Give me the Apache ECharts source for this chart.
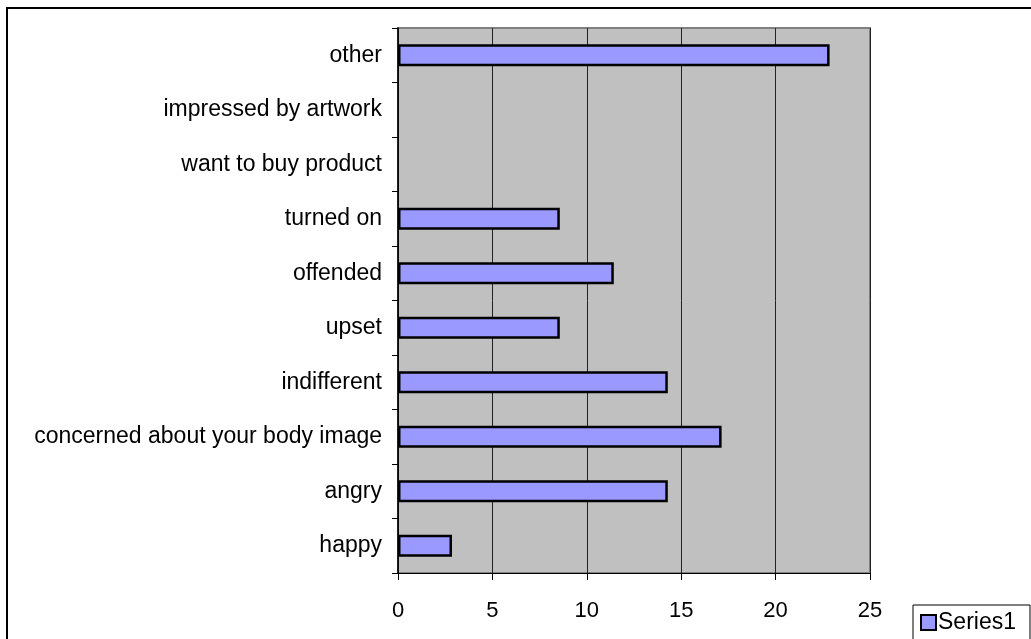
<!DOCTYPE html>
<html>
<head>
<meta charset="utf-8">
<script src="https://cdn.jsdelivr.net/npm/echarts@6/dist/echarts.min.js"></script>
<style>
  html, body { margin: 0; padding: 0; background: #fff; }
  #main { width: 1031px; height: 639px; }
</style>
</head>
<body>
<div id="main"></div>
<script>
// categories from bottom to top
const categories = [
  'happy',
  'angry',
  'concerned about your body image',
  'indifferent',
  'upset',
  'offended',
  'turned on',
  'want to buy product',
  'impressed by artwork',
  'other'
]
const series1 = [2.86, 14.29, 17.14, 14.29, 8.57, 11.43, 8.57, 0, 0, 22.86]
const xTicks = [0, 5, 10, 15, 20, 25]

const chart = echarts.init(document.getElementById('main'))
const font = 'Liberation Sans, Arial, sans-serif'

chart.setOption({
  animation: false,
  graphic: [{
    type: 'rect',
    shape: { x: 7, y: 8, width: 1200, height: 800 },
    style: { fill: 'none', stroke: '#000', lineWidth: 2 },
    z: 0
  }],
  legend: {
    data: ['Series1'],
    left: 913,
    top: 605,
    padding: [6, 14, 6, 7],
    itemWidth: 15,
    itemHeight: 15,
    itemGap: 4,
    borderColor: '#000',
    borderWidth: 1,
    backgroundColor: '#fff',
    icon: 'rect',
    textStyle: { fontFamily: font, fontSize: 23, color: '#000', padding: [0, 0, 0, -3] },
    itemStyle: { borderColor: '#000', borderWidth: 2 }
  },
  grid: {
    left: 398,
    top: 28,
    right: 161,
    bottom: 66,
    show: true,
    backgroundColor: '#C0C0C0',
    borderColor: '#808080',
    borderWidth: 2
  },
  xAxis: {
    type: 'value',
    min: 0,
    max: 25,
    interval: 5,
    axisLine: { show: true, lineStyle: { color: '#000', width: 1 } },
    axisTick: { show: true, length: 7, lineStyle: { color: '#000' } },
    axisLabel: {
      margin: 27,
      fontFamily: font,
      fontSize: 22,
      color: '#000',
      formatter: v => (xTicks.indexOf(v) >= 0 ? String(v) : '')
    },
    splitLine: { show: true, lineStyle: { color: '#222', width: 1 } }
  },
  yAxis: {
    type: 'category',
    data: categories,
    axisLine: { show: true, lineStyle: { color: '#000', width: 1.5 } },
    axisTick: { show: true, length: 6, lineStyle: { color: '#000' } },
    axisLabel: {
      margin: 16,
      fontFamily: font,
      fontSize: 23,
      color: '#000'
    },
    splitLine: { show: false }
  },
  series: [{
    name: 'Series1',
    type: 'bar',
    // empty categories draw no bar at all
    data: series1.map(v => (v === 0 ? null : v)),
    barWidth: '40%',
    itemStyle: { color: '#9999FF', borderColor: '#000', borderWidth: 2.5 }
  }]
})
</script>
</body>
</html>
